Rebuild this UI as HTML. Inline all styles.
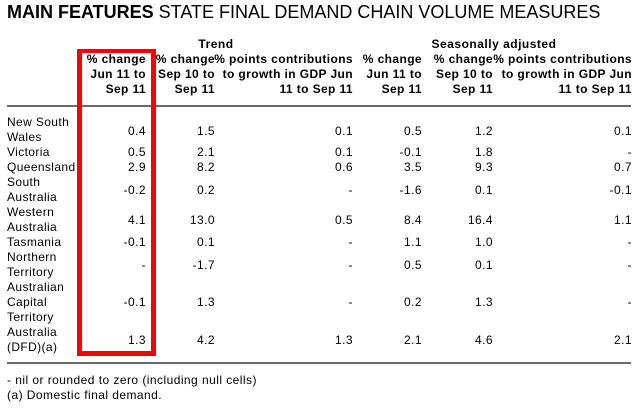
<!DOCTYPE html>
<html>
<head>
<meta charset="utf-8">
<style>
html,body{margin:0;padding:0;background:#fff;}
body{width:642px;height:411px;position:relative;overflow:hidden;font-family:"Liberation Sans",Arial,sans-serif;color:#000;}
.t{position:absolute;white-space:nowrap;}
.title{left:7px;top:1px;font-size:18px;line-height:22px;}
.h{font-weight:bold;font-size:12px;letter-spacing:0.4px;line-height:15px;text-align:right;}
.hc{font-weight:bold;font-size:12px;letter-spacing:0.5px;line-height:15px;text-align:center;}
.l{font-size:12px;letter-spacing:0.38px;line-height:15px;left:7px;}
.v{font-size:12px;letter-spacing:0.45px;line-height:15px;text-align:right;}
.rule{position:absolute;left:7px;width:624px;height:2px;background:#6a6a6a;}
.box{position:absolute;left:77px;top:49px;width:69px;height:298px;border:5px solid #f00;border-top-width:4px;}
.fn{font-size:12px;letter-spacing:0.45px;line-height:15px;left:7px;}
</style>
</head>
<body>
<div class="t title"><b>MAIN FEATURES</b> STATE FINAL DEMAND CHAIN VOLUME MEASURES</div>

<div class="t hc" style="left:79px;width:274px;top:37px;">Trend</div>
<div class="t hc" style="left:356px;width:276px;top:37px;">Seasonally adjusted</div>

<div class="t h" style="right:496px;top:52px;">% change<br>Jun 11 to<br>Sep 11</div>
<div class="t h" style="right:427px;top:52px;">% change<br>Sep 10 to<br>Sep 11</div>
<div class="t h" style="right:289px;top:52px;">% points contributions<br>to growth in GDP Jun<br>11 to Sep 11</div>
<div class="t h" style="right:220px;top:52px;">% change<br>Jun 11 to<br>Sep 11</div>
<div class="t h" style="right:149px;top:52px;">% change<br>Sep 10 to<br>Sep 11</div>
<div class="t h" style="right:10px;top:52px;">% points contributions<br>to growth in GDP Jun<br>11 to Sep 11</div>

<div class="rule" style="top:105px;"></div>

<!-- labels -->
<div class="t l" style="top:115px;">New South<br>Wales</div>
<div class="t l" style="top:145px;">Victoria</div>
<div class="t l" style="top:160px;">Queensland</div>
<div class="t l" style="top:175px;">South<br>Australia</div>
<div class="t l" style="top:205px;">Western<br>Australia</div>
<div class="t l" style="top:235px;">Tasmania</div>
<div class="t l" style="top:250px;">Northern<br>Territory</div>
<div class="t l" style="top:280px;">Australian<br>Capital<br>Territory</div>
<div class="t l" style="top:325px;">Australia<br>(DFD)(a)</div>

<!-- col1 right 146 -->
<div class="t v" style="right:496px;top:124px;">0.4</div>
<div class="t v" style="right:496px;top:145px;">0.5</div>
<div class="t v" style="right:496px;top:160px;">2.9</div>
<div class="t v" style="right:496px;top:183px;">-0.2</div>
<div class="t v" style="right:496px;top:213px;">4.1</div>
<div class="t v" style="right:496px;top:235px;">-0.1</div>
<div class="t v" style="right:496px;top:258px;">-</div>
<div class="t v" style="right:496px;top:295px;">-0.1</div>
<div class="t v" style="right:496px;top:333px;">1.3</div>

<!-- col2 right 215 -->
<div class="t v" style="right:427px;top:124px;">1.5</div>
<div class="t v" style="right:427px;top:145px;">2.1</div>
<div class="t v" style="right:427px;top:160px;">8.2</div>
<div class="t v" style="right:427px;top:183px;">0.2</div>
<div class="t v" style="right:427px;top:213px;">13.0</div>
<div class="t v" style="right:427px;top:235px;">0.1</div>
<div class="t v" style="right:427px;top:258px;">-1.7</div>
<div class="t v" style="right:427px;top:295px;">1.3</div>
<div class="t v" style="right:427px;top:333px;">4.2</div>

<!-- col3 right 353 -->
<div class="t v" style="right:289px;top:124px;">0.1</div>
<div class="t v" style="right:289px;top:145px;">0.1</div>
<div class="t v" style="right:289px;top:160px;">0.6</div>
<div class="t v" style="right:289px;top:183px;">-</div>
<div class="t v" style="right:289px;top:213px;">0.5</div>
<div class="t v" style="right:289px;top:235px;">-</div>
<div class="t v" style="right:289px;top:258px;">-</div>
<div class="t v" style="right:289px;top:295px;">-</div>
<div class="t v" style="right:289px;top:333px;">1.3</div>

<!-- col4 right 422 -->
<div class="t v" style="right:220px;top:124px;">0.5</div>
<div class="t v" style="right:220px;top:145px;">-0.1</div>
<div class="t v" style="right:220px;top:160px;">3.5</div>
<div class="t v" style="right:220px;top:183px;">-1.6</div>
<div class="t v" style="right:220px;top:213px;">8.4</div>
<div class="t v" style="right:220px;top:235px;">1.1</div>
<div class="t v" style="right:220px;top:258px;">0.5</div>
<div class="t v" style="right:220px;top:295px;">0.2</div>
<div class="t v" style="right:220px;top:333px;">2.1</div>

<!-- col5 right 493 -->
<div class="t v" style="right:149px;top:124px;">1.2</div>
<div class="t v" style="right:149px;top:145px;">1.8</div>
<div class="t v" style="right:149px;top:160px;">9.3</div>
<div class="t v" style="right:149px;top:183px;">0.1</div>
<div class="t v" style="right:149px;top:213px;">16.4</div>
<div class="t v" style="right:149px;top:235px;">1.0</div>
<div class="t v" style="right:149px;top:258px;">0.1</div>
<div class="t v" style="right:149px;top:295px;">1.3</div>
<div class="t v" style="right:149px;top:333px;">4.6</div>

<!-- col6 right 632 -->
<div class="t v" style="right:10px;top:124px;">0.1</div>
<div class="t v" style="right:10px;top:145px;">-</div>
<div class="t v" style="right:10px;top:160px;">0.7</div>
<div class="t v" style="right:10px;top:183px;">-0.1</div>
<div class="t v" style="right:10px;top:213px;">1.1</div>
<div class="t v" style="right:10px;top:235px;">-</div>
<div class="t v" style="right:10px;top:258px;">-</div>
<div class="t v" style="right:10px;top:295px;">-</div>
<div class="t v" style="right:10px;top:333px;">2.1</div>

<div class="rule" style="top:362px;"></div>

<div class="t fn" style="top:373px;">- nil or rounded to zero (including null cells)</div>
<div class="t fn" style="top:388px;">(a) Domestic final demand.</div>

<div class="box"></div>
</body>
</html>
